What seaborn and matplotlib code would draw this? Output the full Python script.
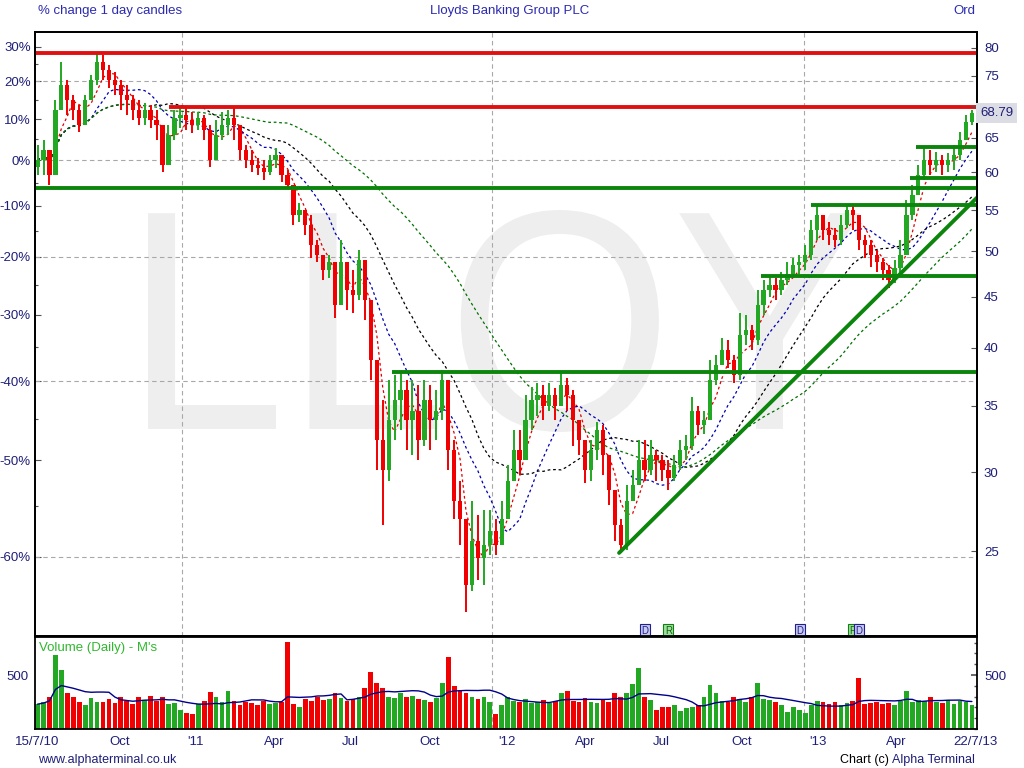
import matplotlib
matplotlib.use("Agg")
import numpy as np
import pandas as pd
import matplotlib.pyplot as plt
import matplotlib.ticker as mticker
from matplotlib.textpath import TextPath
from matplotlib.patches import PathPatch
from matplotlib.font_manager import FontProperties
from matplotlib.transforms import Affine2D, ScaledTranslation, blended_transform_factory
import seaborn as sns

sns.set_theme(style="white")
plt.rcParams['font.family'] = ['Liberation Sans', 'DejaVu Sans']

# ---------------- data ----------------
TITLE_LEFT = "% change 1 day candles"
TITLE_CENTER = "Lloyds Banking Group PLC"
TITLE_RIGHT = "Ord"
WATERMARK = "LLOY"
VOLUME_TITLE = "Volume (Daily) - M's"
FOOTER_LEFT = "www.alphaterminal.co.uk"
FOOTER_RIGHT_A = "Chart (c) "
FOOTER_RIGHT_B = "Alpha Terminal"

FIRST_DATE = "2010-07-15"
OPEN0 = 60.8
closes = [61.7, 63.2, 59.6, 69.3, 73.4, 70.95, 69.3, 67.0, 70.95, 74.3,
          77.45, 76.0, 74.3, 73.4, 71.8, 70.95, 69.3, 68.05, 69.3, 67.7,
          67.0, 61.0, 65.4, 68.05, 68.5, 67.7, 67.0, 68.05, 66.2, 61.7,
          65.4, 67.0, 68.05, 67.0, 63.2, 61.7, 61.0, 60.6, 60.1, 61.7,
          62.5, 59.6, 58.3, 54.4, 55.0, 53.1, 50.7, 49.6, 47.9, 48.8,
          44.2, 48.8, 45.7, 45.2, 49.0, 44.7, 38.9, 32.3, 30.15, 33.85,
          35.45, 36.3, 33.85, 34.6, 32.3, 35.45, 33.85, 34.6, 37.1, 31.6,
          28.1, 26.9, 23.1, 25.6, 24.6, 25.35, 26.2, 25.35, 26.9, 29.4,
          31.6, 30.9, 33.85, 35.45, 35.9, 35.0, 35.9, 35.0, 36.7, 35.9,
          33.85, 32.3, 30.15, 31.6, 33.1, 31.2, 28.8, 26.55, 25.35, 28.1,
          29.1, 30.9, 30.15, 31.2, 30.9, 30.15, 29.6, 30.5, 31.6, 31.9,
          34.6, 33.5, 33.85, 37.1, 38.4, 39.8, 38.9, 37.55, 41.2, 41.7,
          40.7, 44.2, 45.7, 46.2, 45.7, 46.8, 47.4, 48.4, 48.8, 49.6,
          52.5, 54.4, 52.5, 51.9, 51.3, 53.1, 55.0, 54.4, 51.3, 50.7,
          49.6, 48.8, 47.9, 46.8, 48.1, 49.6, 54.4, 57.0, 59.6, 61.7,
          61.0, 61.7, 61.0, 61.7, 62.5, 64.7, 67.4, 68.79]
highs = [63.9, 64.7, 61.7, 70.95, 77.45, 74.3, 71.8, 70.1, 71.8, 75.2,
         79.0, 78.7, 76.9, 75.7, 74.3, 73.4, 71.8, 70.95, 70.45, 70.1,
         69.3, 65.4, 67.0, 69.3, 69.8, 69.6, 69.0, 69.0, 68.5, 67.0,
         67.7, 69.0, 69.3, 69.8, 67.0, 63.9, 63.2, 62.0, 61.7, 62.5,
         63.5, 62.0, 60.3, 55.9, 55.9, 55.0, 54.4, 51.3, 49.6, 49.6,
         47.9, 51.3, 48.4, 47.9, 50.2, 46.8, 43.7, 37.1, 35.45, 37.1,
         37.55, 37.8, 37.1, 37.1, 36.7, 37.1, 36.7, 36.3, 38.0, 35.45,
         32.3, 29.4, 25.6, 28.1, 27.2, 27.5, 27.5, 26.9, 28.1, 30.5,
         33.1, 33.1, 35.9, 36.5, 36.9, 36.7, 36.9, 36.45, 37.7, 37.3,
         36.3, 33.85, 32.3, 32.3, 33.7, 33.5, 30.5, 28.1, 26.9, 29.1,
         30.15, 32.3, 32.3, 32.3, 31.6, 31.2, 30.9, 31.2, 32.3, 32.7,
         35.7, 35.0, 34.6, 38.9, 39.3, 40.9, 40.7, 39.3, 43.35, 43.15,
         42.2, 45.7, 46.8, 47.1, 47.0, 47.7, 48.8, 49.2, 49.6, 50.7,
         53.75, 55.6, 54.4, 53.5, 52.8, 54.4, 55.6, 55.6, 53.75, 51.9,
         51.3, 50.2, 49.2, 48.4, 49.0, 51.3, 56.3, 58.3, 61.0, 63.6,
         63.2, 62.9, 62.5, 62.8, 63.9, 65.9, 68.5, 69.3]
lows = [59.6, 59.6, 58.3, 59.6, 69.3, 68.5, 67.7, 65.9, 67.0, 70.95,
        73.4, 74.3, 72.9, 71.8, 69.3, 68.5, 67.7, 67.0, 67.0, 66.5,
        64.7, 60.1, 61.0, 64.7, 66.5, 66.2, 65.7, 66.2, 64.7, 60.8,
        61.7, 64.7, 65.4, 64.7, 61.7, 60.6, 60.1, 59.6, 59.0, 59.6,
        60.6, 58.7, 57.9, 53.1, 53.5, 51.9, 49.2, 48.8, 46.8, 47.0,
        42.85, 45.2, 43.7, 43.35, 44.7, 42.65, 37.1, 30.15, 26.55, 29.4,
        32.3, 33.1, 31.6, 31.2, 30.9, 31.9, 31.6, 32.3, 33.85, 30.15,
        26.9, 25.35, 21.7, 22.8, 23.4, 23.1, 24.8, 24.8, 25.6, 27.2,
        29.4, 29.8, 32.3, 33.1, 34.2, 33.85, 34.6, 33.85, 35.45, 34.6,
        31.9, 31.2, 29.3, 29.4, 30.9, 29.8, 27.8, 25.6, 24.9, 25.05,
        28.1, 29.1, 29.4, 29.8, 29.4, 29.4, 28.8, 29.4, 30.15, 30.9,
        31.6, 32.7, 32.8, 33.85, 36.7, 38.4, 38.2, 36.9, 37.1, 40.25,
        39.8, 40.25, 43.15, 45.0, 44.7, 45.2, 46.2, 47.0, 47.4, 47.9,
        49.0, 51.3, 51.3, 50.7, 50.5, 50.7, 52.8, 52.5, 50.2, 49.2,
        48.2, 47.7, 46.8, 45.9, 46.5, 47.4, 50.7, 53.75, 57.0, 59.0,
        59.6, 60.1, 59.6, 60.1, 60.3, 61.7, 64.7, 67.0]
volumes = [230, 250, 300, 685, 546, 330, 300, 250, 220, 290,
           250, 250, 280, 240, 300, 260, 230, 300, 270, 310,
           260, 300, 230, 240, 180, 150, 140, 230, 260, 340,
           300, 250, 350, 260, 220, 250, 240, 220, 260, 230,
           240, 250, 805, 230, 200, 280, 260, 300, 270, 280,
           330, 290, 260, 280, 300, 380, 528, 430, 380, 300,
           290, 330, 300, 310, 280, 270, 250, 290, 426, 667,
           400, 350, 330, 300, 280, 300, 250, 140, 220, 300,
           260, 250, 280, 240, 250, 270, 240, 260, 330, 350,
           260, 250, 290, 250, 240, 270, 250, 330, 300, 330,
           420, 565, 300, 270, 180, 200, 200, 220, 170, 190,
           200, 220, 300, 407, 330, 260, 250, 300, 280, 250,
           300, 426, 280, 270, 250, 220, 160, 200, 180, 150,
           220, 260, 250, 230, 250, 220, 240, 260, 472, 230,
           240, 250, 230, 240, 220, 260, 352, 250, 270, 260,
           296, 250, 240, 270, 230, 260, 250, 220]

ma_windows = [4, 10, 20, 40]          # weeks (approx. 20/50/100/200 day)
ma_colors = ["#E00000", "#0000B0", "#000000", "#007000"]
vol_ma_window = 10

pct_major = [30, 20, 10, 0, -10, -20, -30, -40, -50, -60]
pct_minor = [25, 15, 5, -5, -15, -25, -35, -45, -55]
pct_grid = [20, 0, -20, -40, -60]
price_labels = [25, 30, 35, 40, 45, 50, 55, 60, 65, 75, 80]
price_ticks = [25, 30, 35, 40, 45, 50, 55, 60, 65, 70, 75, 80]
last_price_text = "68.79"
last_price = 68.79

resist_levels = [79.1, 69.8]
resist_starts = ["2010-07-12", "2010-12-17"]
support_levels = [57.85, 37.8, 47.2, 55.6, 59.2, 63.7]
support_starts = ["2010-07-12", "2011-09-05", "2012-11-12", "2013-01-10", "2013-05-06", "2013-05-13"]
trend_dates = ["2012-05-29", "2013-07-24"]
trend_prices = [24.9, 56.6]

event_dates = ["2012-06-28", "2012-07-26", "2012-12-28", "2013-02-28", "2013-03-07"]
event_kinds = ["D", "R", "D", "R", "D"]

year_lines = ["2011-01-01", "2012-01-01", "2013-01-01"]
month_tick_dates = ["2010-10-01", "2011-01-01", "2011-04-01", "2011-07-01", "2011-10-01",
                    "2012-01-01", "2012-04-01", "2012-07-01", "2012-10-01", "2013-01-01", "2013-04-01"]
month_tick_labels = ["Oct", "'11", "Apr", "Jul", "Oct", "'12", "Apr", "Jul", "Oct", "'13", "Apr"]
end_tick_dates = ["2010-07-15", "2013-07-22"]
end_tick_labels = ["15/7/10", "22/7/13"]
XMIN, XMAX = "2010-07-12", "2013-07-24"
VOL_MAX = 852
vol_labels = [500]

# ---------------- derived ----------------
n = len(closes)
dates = pd.date_range(FIRST_DATE, periods=n, freq="7D")
opens = [OPEN0] + closes[:-1]
df = pd.DataFrame({"date": dates, "open": opens, "close": closes,
                   "high": highs, "low": lows, "volume": volumes})
base = closes[0]
for w in ma_windows:
    df[f"ma{w}"] = df["close"].rolling(w, min_periods=1).mean()
df["vol_ma"] = df["volume"].rolling(vol_ma_window, min_periods=1).mean()

NAVY = "#1E1E78"
BLUE_T = "#2B2BB0"
GREEN_C = "#22A822"
RED_C = "#F00000"
LINE_GREEN = "#0B850B"
LINE_RED = "#E01010"
GRID_C = "#A8A8A8"

o = df["open"].to_numpy()
c = df["close"].to_numpy()
up = c >= o
cols = np.where(up, GREEN_C, RED_C)
hi = np.maximum(df["high"].to_numpy(), np.maximum(o, c))
lo = np.minimum(df["low"].to_numpy(), np.minimum(o, c))

# ---------------- figure ----------------
fig = plt.figure(figsize=(10.24, 7.68), dpi=100)
fig.patch.set_facecolor("white")
L, R = 35 / 1024, 977 / 1024
ax = fig.add_axes([L, 1 - 636 / 768, R - L, (636 - 32) / 768])
axv = fig.add_axes([L, 1 - 729 / 768, R - L, (729 - 637) / 768], sharex=ax)

ymin, ymax = 20.55, 83.0
ax.set_yscale("log")
ax.set_ylim(ymin, ymax)
xmin, xmax = pd.Timestamp(XMIN), pd.Timestamp(XMAX)

# watermark
tp = TextPath((0, 0), WATERMARK, size=100, prop=FontProperties(family="Liberation Sans"))
ext = tp.get_extents()
x0, x1 = 148 / 1024, 860 / 1024
y0, y1 = 1 - 432 / 768, 1 - 210 / 768
tr = (Affine2D().translate(-ext.x0, -ext.y0)
      .scale((x1 - x0) / ext.width, (y1 - y0) / ext.height)
      .translate(x0, y0) + fig.transFigure)
ax.add_patch(PathPatch(tp, facecolor="#EEEEEE", edgecolor="none", transform=tr,
                       zorder=0.5, clip_on=False))

# grid
for p in pct_grid:
    ax.axhline(base * (1 + p / 100), color=GRID_C, lw=0.8, ls=(0, (4, 3)), zorder=1)
for d in year_lines:
    ax.axvline(pd.Timestamp(d), color=GRID_C, lw=0.8, ls=(0, (4, 3)), zorder=1)
    axv.axvline(pd.Timestamp(d), color=GRID_C, lw=0.8, ls=(0, (4, 3)), zorder=1)

# moving averages (seaborn)
for w, col in zip(ma_windows, ma_colors):
    sns.lineplot(data=df, x="date", y=f"ma{w}", ax=ax, color=col, lw=0.9,
                 linestyle=(0, (2.2, 2.2)), zorder=2)

# candles
ax.vlines(df["date"], lo, hi, colors=cols, lw=1.4, zorder=3)
body_bottom = np.minimum(o, c)
body_h = np.maximum(np.abs(c - o), 0.15)
ax.bar(df["date"], body_h, bottom=body_bottom, width=5.0, color=cols, lw=0, zorder=3)

# support / resistance lines
for lvl, s in zip(resist_levels, resist_starts):
    ax.hlines(lvl, pd.Timestamp(s), xmax, color=LINE_RED, lw=2.8, zorder=4)
for lvl, s in zip(support_levels, support_starts):
    ax.hlines(lvl, pd.Timestamp(s), xmax, color=LINE_GREEN, lw=2.8, zorder=4)
ax.plot(pd.to_datetime(trend_dates), trend_prices, color=LINE_GREEN, lw=2.8, zorder=4)

ax.set_xlim(xmin, xmax)
ax.set_xlabel("")
ax.set_ylabel("")

# left axis: percent
ax.yaxis.set_major_locator(mticker.FixedLocator([base * (1 + p / 100) for p in pct_major]))
ax.yaxis.set_major_formatter(mticker.FixedFormatter([f"{p}%" for p in pct_major]))
ax.yaxis.set_minor_locator(mticker.FixedLocator([base * (1 + p / 100) for p in pct_minor]))
ax.yaxis.set_minor_formatter(mticker.NullFormatter())
ax.tick_params(axis="y", which="major", direction="in", length=4, width=0.8,
               labelsize=9.5, labelcolor=NAVY, color="#555555", pad=3, left=True)
ax.tick_params(axis="y", which="minor", direction="in", length=2.5, width=0.8,
               color="#555555", left=True)
ax.tick_params(axis="x", which="both", length=0, labelbottom=False)

# right axis: price
ax2 = ax.twinx()
ax2.set_yscale("log")
ax2.set_ylim(ymin, ymax)
ax2.yaxis.set_major_locator(mticker.FixedLocator(price_ticks))
ax2.yaxis.set_major_formatter(mticker.FixedFormatter(
    [str(p) if p in price_labels else "" for p in price_ticks]))
ax2.yaxis.set_minor_locator(mticker.NullLocator())
ax2.tick_params(axis="y", which="major", direction="in", length=4, width=0.8,
                labelsize=9.5, labelcolor=NAVY, color="#555555", pad=5, right=True)
ax2.set_ylabel("")
ax2.text(1.0035, last_price, last_price_text,
         transform=blended_transform_factory(ax2.transAxes, ax2.transData),
         ha="left", va="center", fontsize=9.5, color=NAVY,
         bbox=dict(boxstyle="square,pad=0.3", facecolor="#DCDCE4", edgecolor="none"))

for a in (ax, ax2, axv):
    for sp in a.spines.values():
        sp.set_color("black")
        sp.set_linewidth(1.3)

# event markers
ev_tr = blended_transform_factory(ax.transData, ax.transAxes)
for d, k in zip(event_dates, event_kinds):
    if k == "D":
        fc, ec, tc = "#C8C8F0", "#20208C", "#20208C"
    else:
        fc, ec, tc = "#9EE09E", "#108010", "#106010"
    ax.text(pd.Timestamp(d), 0.009, k, transform=ev_tr, ha="center", va="center",
            fontsize=7, color=tc, zorder=6,
            bbox=dict(boxstyle="square,pad=0.15", facecolor=fc, edgecolor=ec, lw=0.8))

# volume panel
axv.bar(df["date"], df["volume"], width=5.6, color=cols, lw=0, zorder=2)
sns.lineplot(data=df, x="date", y="vol_ma", ax=axv, color="#00008C", lw=1.0, zorder=3)
axv.set_ylim(0, VOL_MAX)
axv.set_xlim(xmin, xmax)
axv.set_xlabel("")
axv.set_ylabel("")
axv.yaxis.set_major_locator(mticker.FixedLocator(vol_labels))
axv.yaxis.set_minor_locator(mticker.MultipleLocator(100))
axv.tick_params(axis="y", which="major", length=4, direction="in", labelsize=9.5,
                labelcolor=NAVY, left=False, right=True, labelleft=True, labelright=True,
                pad=5, color="#555555")
axv.tick_params(axis="y", which="minor", length=2.5, direction="in",
                left=False, right=True, color="#555555")
axv.text(0.004, 0.95, VOLUME_TITLE, transform=axv.transAxes, ha="left", va="top",
         fontsize=9.5, color="#30B830")

tick_dates = [pd.Timestamp(d) for d in end_tick_dates[:1] + month_tick_dates + end_tick_dates[1:]]
tick_labels = end_tick_labels[:1] + month_tick_labels + end_tick_labels[1:]
axv.set_xticks(tick_dates)
axv.set_xticklabels(tick_labels)
axv.tick_params(axis="x", length=0, pad=5, labelsize=9.5, labelcolor=NAVY)
offset = ScaledTranslation(4 / 72, 0, fig.dpi_scale_trans)
for i, lbl in enumerate(axv.get_xticklabels()):
    if 0 < i < len(tick_labels) - 1:
        lbl.set_ha("left")
        lbl.set_transform(lbl.get_transform() + offset)
    else:
        lbl.set_ha("center")

# titles and footer
fig.text(38 / 1024, 1 - 11 / 768, TITLE_LEFT, ha="left", va="center", fontsize=9.5, color=BLUE_T)
fig.text(510 / 1024, 1 - 11 / 768, TITLE_CENTER, ha="center", va="center", fontsize=9.5, color=BLUE_T)
fig.text(975 / 1024, 1 - 11 / 768, TITLE_RIGHT, ha="right", va="center", fontsize=9.5, color=BLUE_T)
fig.text(38 / 1024, 1 - 760 / 768, FOOTER_LEFT, ha="left", va="center", fontsize=9, color=NAVY)
tb = fig.text(975 / 1024, 1 - 760 / 768, FOOTER_RIGHT_B, ha="right", va="center", fontsize=9, color=NAVY)
fig.canvas.draw()
bb = tb.get_window_extent()
fig.text(bb.x0 / fig.bbox.width, 1 - 760 / 768, FOOTER_RIGHT_A, ha="right", va="center",
         fontsize=9, color="black")

fig.savefig("out.png", dpi=100, facecolor="white")
